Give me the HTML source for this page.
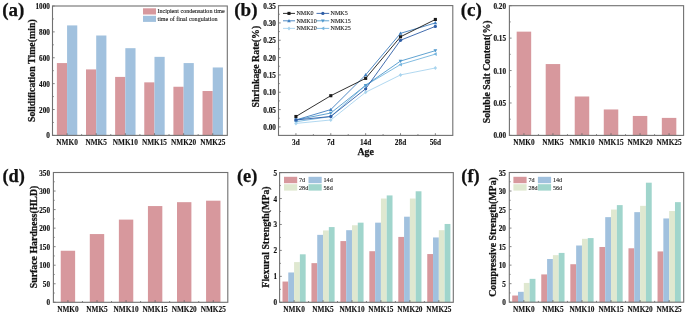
<!DOCTYPE html>
<html><head><meta charset="utf-8"><style>
html,body{margin:0;padding:0;background:#fff;width:685px;height:313px;overflow:hidden}
svg{display:block;will-change:transform;filter:blur(0.4px)}
text{font-family:"Liberation Serif", serif;fill:#111}
text[font-weight=bold]{stroke:#111;stroke-width:0.1px}
text.big{stroke-width:0.25px}
text.tick{stroke-width:0.15px}
text[font-weight=normal]{stroke:#222;stroke-width:0.1px}
</style></head><body>
<svg width="685" height="313" viewBox="0 0 685 313">
<rect width="685" height="313" fill="#fff"/>
<rect x="56.87" y="63.07" width="10.20" height="72.33" fill="#d7989d"/>
<rect x="67.07" y="25.41" width="10.20" height="109.99" fill="#a1c1de"/>
<rect x="86.00" y="69.41" width="10.20" height="65.99" fill="#d7989d"/>
<rect x="96.20" y="35.50" width="10.20" height="99.90" fill="#a1c1de"/>
<rect x="115.13" y="76.91" width="10.20" height="58.49" fill="#d7989d"/>
<rect x="125.33" y="48.18" width="10.20" height="87.22" fill="#a1c1de"/>
<rect x="144.27" y="82.35" width="10.20" height="53.05" fill="#d7989d"/>
<rect x="154.47" y="56.85" width="10.20" height="78.55" fill="#a1c1de"/>
<rect x="173.40" y="86.75" width="10.20" height="48.65" fill="#d7989d"/>
<rect x="183.60" y="63.07" width="10.20" height="72.33" fill="#a1c1de"/>
<rect x="202.53" y="91.02" width="10.20" height="44.38" fill="#d7989d"/>
<rect x="212.73" y="67.47" width="10.20" height="67.94" fill="#a1c1de"/>
<line x1="52.50" y1="135.40" x2="54.70" y2="135.40" stroke="#666" stroke-width="0.8"/>
<text x="0" y="0" font-size="7.2" font-weight="bold" text-anchor="end" dominant-baseline="central" class="tick" transform="translate(49.90,136.40) scale(1.000,1)">0</text>
<line x1="52.50" y1="109.52" x2="54.70" y2="109.52" stroke="#666" stroke-width="0.8"/>
<text x="0" y="0" font-size="7.2" font-weight="bold" text-anchor="end" dominant-baseline="central" class="tick" transform="translate(49.90,110.52) scale(1.000,1)">200</text>
<line x1="52.50" y1="83.64" x2="54.70" y2="83.64" stroke="#666" stroke-width="0.8"/>
<text x="0" y="0" font-size="7.2" font-weight="bold" text-anchor="end" dominant-baseline="central" class="tick" transform="translate(49.90,84.64) scale(1.000,1)">400</text>
<line x1="52.50" y1="57.76" x2="54.70" y2="57.76" stroke="#666" stroke-width="0.8"/>
<text x="0" y="0" font-size="7.2" font-weight="bold" text-anchor="end" dominant-baseline="central" class="tick" transform="translate(49.90,58.76) scale(1.000,1)">600</text>
<line x1="52.50" y1="31.88" x2="54.70" y2="31.88" stroke="#666" stroke-width="0.8"/>
<text x="0" y="0" font-size="7.2" font-weight="bold" text-anchor="end" dominant-baseline="central" class="tick" transform="translate(49.90,32.88) scale(1.000,1)">800</text>
<line x1="52.50" y1="6.00" x2="54.70" y2="6.00" stroke="#666" stroke-width="0.8"/>
<text x="0" y="0" font-size="7.2" font-weight="bold" text-anchor="end" dominant-baseline="central" class="tick" transform="translate(49.90,7.00) scale(1.000,1)">1000</text>
<line x1="52.50" y1="122.46" x2="53.80" y2="122.46" stroke="#666" stroke-width="0.8"/>
<line x1="52.50" y1="96.58" x2="53.80" y2="96.58" stroke="#666" stroke-width="0.8"/>
<line x1="52.50" y1="70.70" x2="53.80" y2="70.70" stroke="#666" stroke-width="0.8"/>
<line x1="52.50" y1="44.82" x2="53.80" y2="44.82" stroke="#666" stroke-width="0.8"/>
<line x1="52.50" y1="18.94" x2="53.80" y2="18.94" stroke="#666" stroke-width="0.8"/>
<line x1="67.07" y1="135.40" x2="67.07" y2="133.20" stroke="#666" stroke-width="0.8"/>
<text x="67.07" y="142.50" font-size="7.3" font-weight="bold" text-anchor="middle" dominant-baseline="central" >NMK0</text>
<line x1="96.20" y1="135.40" x2="96.20" y2="133.20" stroke="#666" stroke-width="0.8"/>
<line x1="81.63" y1="135.40" x2="81.63" y2="134.10" stroke="#666" stroke-width="0.8"/>
<text x="96.20" y="142.50" font-size="7.3" font-weight="bold" text-anchor="middle" dominant-baseline="central" >NMK5</text>
<line x1="125.33" y1="135.40" x2="125.33" y2="133.20" stroke="#666" stroke-width="0.8"/>
<line x1="110.77" y1="135.40" x2="110.77" y2="134.10" stroke="#666" stroke-width="0.8"/>
<text x="125.33" y="142.50" font-size="7.3" font-weight="bold" text-anchor="middle" dominant-baseline="central" >NMK10</text>
<line x1="154.47" y1="135.40" x2="154.47" y2="133.20" stroke="#666" stroke-width="0.8"/>
<line x1="139.90" y1="135.40" x2="139.90" y2="134.10" stroke="#666" stroke-width="0.8"/>
<text x="154.47" y="142.50" font-size="7.3" font-weight="bold" text-anchor="middle" dominant-baseline="central" >NMK15</text>
<line x1="183.60" y1="135.40" x2="183.60" y2="133.20" stroke="#666" stroke-width="0.8"/>
<line x1="169.03" y1="135.40" x2="169.03" y2="134.10" stroke="#666" stroke-width="0.8"/>
<text x="183.60" y="142.50" font-size="7.3" font-weight="bold" text-anchor="middle" dominant-baseline="central" >NMK20</text>
<line x1="212.73" y1="135.40" x2="212.73" y2="133.20" stroke="#666" stroke-width="0.8"/>
<line x1="198.17" y1="135.40" x2="198.17" y2="134.10" stroke="#666" stroke-width="0.8"/>
<text x="212.73" y="142.50" font-size="7.3" font-weight="bold" text-anchor="middle" dominant-baseline="central" >NMK25</text>
<rect x="52.5" y="6.0" width="174.80" height="129.40" fill="none" stroke="#707070" stroke-width="1.1"/>
<rect x="143.00" y="8.30" width="13.00" height="6.20" fill="#d7989d"/>
<rect x="143.00" y="15.80" width="13.00" height="6.10" fill="#a1c1de"/>
<text x="157.50" y="11.30" font-size="6.05" font-weight="normal" text-anchor="start" dominant-baseline="central" >Incipient condensation time</text>
<text x="157.50" y="18.70" font-size="6.05" font-weight="normal" text-anchor="start" dominant-baseline="central" >time of final congulation</text>
<text x="2.30" y="9.00" font-size="19" font-weight="bold" text-anchor="start" dominant-baseline="central" class="big">(a)</text>
<text x="0" y="0" font-size="9.85" font-weight="bold" text-anchor="middle" dominant-baseline="central" class="big" transform="translate(31.30,70.70) rotate(-90)">Solidification Time(min)</text>
<line x1="278.50" y1="126.90" x2="280.70" y2="126.90" stroke="#666" stroke-width="0.8"/>
<text x="0" y="0" font-size="7.2" font-weight="bold" text-anchor="end" dominant-baseline="central" class="tick" transform="translate(275.90,127.90) scale(1.000,1)">0.00</text>
<line x1="278.50" y1="109.57" x2="280.70" y2="109.57" stroke="#666" stroke-width="0.8"/>
<text x="0" y="0" font-size="7.2" font-weight="bold" text-anchor="end" dominant-baseline="central" class="tick" transform="translate(275.90,110.57) scale(1.000,1)">0.05</text>
<line x1="278.50" y1="92.24" x2="280.70" y2="92.24" stroke="#666" stroke-width="0.8"/>
<text x="0" y="0" font-size="7.2" font-weight="bold" text-anchor="end" dominant-baseline="central" class="tick" transform="translate(275.90,93.24) scale(1.000,1)">0.10</text>
<line x1="278.50" y1="74.91" x2="280.70" y2="74.91" stroke="#666" stroke-width="0.8"/>
<text x="0" y="0" font-size="7.2" font-weight="bold" text-anchor="end" dominant-baseline="central" class="tick" transform="translate(275.90,75.91) scale(1.000,1)">0.15</text>
<line x1="278.50" y1="57.59" x2="280.70" y2="57.59" stroke="#666" stroke-width="0.8"/>
<text x="0" y="0" font-size="7.2" font-weight="bold" text-anchor="end" dominant-baseline="central" class="tick" transform="translate(275.90,58.59) scale(1.000,1)">0.20</text>
<line x1="278.50" y1="40.26" x2="280.70" y2="40.26" stroke="#666" stroke-width="0.8"/>
<text x="0" y="0" font-size="7.2" font-weight="bold" text-anchor="end" dominant-baseline="central" class="tick" transform="translate(275.90,41.26) scale(1.000,1)">0.25</text>
<line x1="278.50" y1="22.93" x2="280.70" y2="22.93" stroke="#666" stroke-width="0.8"/>
<text x="0" y="0" font-size="7.2" font-weight="bold" text-anchor="end" dominant-baseline="central" class="tick" transform="translate(275.90,23.93) scale(1.000,1)">0.30</text>
<line x1="278.50" y1="5.60" x2="280.70" y2="5.60" stroke="#666" stroke-width="0.8"/>
<text x="0" y="0" font-size="7.2" font-weight="bold" text-anchor="end" dominant-baseline="central" class="tick" transform="translate(275.90,6.60) scale(1.000,1)">0.35</text>
<line x1="278.50" y1="118.24" x2="279.80" y2="118.24" stroke="#666" stroke-width="0.8"/>
<line x1="278.50" y1="100.91" x2="279.80" y2="100.91" stroke="#666" stroke-width="0.8"/>
<line x1="278.50" y1="83.58" x2="279.80" y2="83.58" stroke="#666" stroke-width="0.8"/>
<line x1="278.50" y1="66.25" x2="279.80" y2="66.25" stroke="#666" stroke-width="0.8"/>
<line x1="278.50" y1="48.92" x2="279.80" y2="48.92" stroke="#666" stroke-width="0.8"/>
<line x1="278.50" y1="31.59" x2="279.80" y2="31.59" stroke="#666" stroke-width="0.8"/>
<line x1="278.50" y1="14.26" x2="279.80" y2="14.26" stroke="#666" stroke-width="0.8"/>
<line x1="295.93" y1="135.40" x2="295.93" y2="133.20" stroke="#666" stroke-width="0.8"/>
<line x1="313.36" y1="135.40" x2="313.36" y2="134.10" stroke="#666" stroke-width="0.8"/>
<text x="295.93" y="142.30" font-size="7.3" font-weight="bold" text-anchor="middle" dominant-baseline="central" >3d</text>
<line x1="330.79" y1="135.40" x2="330.79" y2="133.20" stroke="#666" stroke-width="0.8"/>
<line x1="348.22" y1="135.40" x2="348.22" y2="134.10" stroke="#666" stroke-width="0.8"/>
<text x="330.79" y="142.30" font-size="7.3" font-weight="bold" text-anchor="middle" dominant-baseline="central" >7d</text>
<line x1="365.65" y1="135.40" x2="365.65" y2="133.20" stroke="#666" stroke-width="0.8"/>
<line x1="383.08" y1="135.40" x2="383.08" y2="134.10" stroke="#666" stroke-width="0.8"/>
<text x="365.65" y="142.30" font-size="7.3" font-weight="bold" text-anchor="middle" dominant-baseline="central" >14d</text>
<line x1="400.51" y1="135.40" x2="400.51" y2="133.20" stroke="#666" stroke-width="0.8"/>
<line x1="417.94" y1="135.40" x2="417.94" y2="134.10" stroke="#666" stroke-width="0.8"/>
<text x="400.51" y="142.30" font-size="7.3" font-weight="bold" text-anchor="middle" dominant-baseline="central" >28d</text>
<line x1="435.37" y1="135.40" x2="435.37" y2="133.20" stroke="#666" stroke-width="0.8"/>
<text x="435.37" y="142.30" font-size="7.3" font-weight="bold" text-anchor="middle" dominant-baseline="central" >56d</text>
<text x="365.65" y="151.20" font-size="9.85" font-weight="bold" text-anchor="middle" dominant-baseline="central" class="big">Age</text>
<text x="0" y="0" font-size="9.85" font-weight="bold" text-anchor="middle" dominant-baseline="central" class="big" transform="translate(255.20,66.70) rotate(-90)">Shrinkage Rate(%)</text>
<polyline points="295.93,121.70 330.79,116.50 365.65,85.31 400.51,64.52 435.37,54.12" fill="none" stroke="#74b4de" stroke-width="0.9"/>
<polygon points="294.07,121.70 297.32,119.84 297.32,123.56" fill="#74b4de"/>
<polygon points="328.93,116.50 332.19,114.64 332.19,118.36" fill="#74b4de"/>
<polygon points="363.79,85.31 367.04,83.45 367.04,87.17" fill="#74b4de"/>
<polygon points="398.65,64.52 401.90,62.66 401.90,66.38" fill="#74b4de"/>
<polygon points="433.51,54.12 436.76,52.26 436.76,55.98" fill="#74b4de"/>
<polyline points="295.93,123.43 330.79,119.97 365.65,92.24 400.51,74.91 435.37,67.98" fill="none" stroke="#a8d4ee" stroke-width="0.9"/>
<polygon points="295.93,121.42 297.63,123.43 295.93,125.45 294.23,123.43" fill="#a8d4ee"/>
<polygon points="330.79,117.95 332.50,119.97 330.79,121.98 329.09,119.97" fill="#a8d4ee"/>
<polygon points="365.65,90.23 367.35,92.24 365.65,94.26 363.94,92.24" fill="#a8d4ee"/>
<polygon points="400.51,72.90 402.21,74.91 400.51,76.93 398.81,74.91" fill="#a8d4ee"/>
<polygon points="435.37,65.97 437.07,67.98 435.37,70.00 433.67,67.98" fill="#a8d4ee"/>
<polyline points="295.93,119.97 330.79,113.04 365.65,85.31 400.51,61.05 435.37,50.65" fill="none" stroke="#4f98cc" stroke-width="0.9"/>
<polygon points="295.93,121.83 294.07,118.57 297.79,118.57" fill="#4f98cc"/>
<polygon points="330.79,114.90 328.93,111.64 332.65,111.64" fill="#4f98cc"/>
<polygon points="365.65,87.17 363.79,83.92 367.51,83.92" fill="#4f98cc"/>
<polygon points="400.51,62.91 398.65,59.66 402.37,59.66" fill="#4f98cc"/>
<polygon points="435.37,52.51 433.51,49.26 437.23,49.26" fill="#4f98cc"/>
<polyline points="295.93,119.97 330.79,109.57 365.65,74.91 400.51,33.33 435.37,22.93" fill="none" stroke="#3f7fc0" stroke-width="0.9"/>
<polygon points="295.93,118.11 294.07,121.36 297.79,121.36" fill="#3f7fc0"/>
<polygon points="330.79,107.71 328.93,110.97 332.65,110.97" fill="#3f7fc0"/>
<polygon points="365.65,73.05 363.79,76.31 367.51,76.31" fill="#3f7fc0"/>
<polygon points="400.51,31.47 398.65,34.72 402.37,34.72" fill="#3f7fc0"/>
<polygon points="435.37,21.07 433.51,24.32 437.23,24.32" fill="#3f7fc0"/>
<polyline points="295.93,119.97 330.79,116.50 365.65,88.78 400.51,40.26 435.37,26.39" fill="none" stroke="#2f5ea6" stroke-width="0.9"/>
<circle cx="295.93" cy="119.97" r="1.63" fill="#2f5ea6"/>
<circle cx="330.79" cy="116.50" r="1.63" fill="#2f5ea6"/>
<circle cx="365.65" cy="88.78" r="1.63" fill="#2f5ea6"/>
<circle cx="400.51" cy="40.26" r="1.63" fill="#2f5ea6"/>
<circle cx="435.37" cy="26.39" r="1.63" fill="#2f5ea6"/>
<polyline points="295.93,116.50 330.79,95.71 365.65,78.38 400.51,36.79 435.37,19.46" fill="none" stroke="#1a1a1a" stroke-width="0.9"/>
<rect x="294.38" y="114.95" width="3.10" height="3.10" fill="#1a1a1a"/>
<rect x="329.24" y="94.16" width="3.10" height="3.10" fill="#1a1a1a"/>
<rect x="364.10" y="76.83" width="3.10" height="3.10" fill="#1a1a1a"/>
<rect x="398.96" y="35.24" width="3.10" height="3.10" fill="#1a1a1a"/>
<rect x="433.82" y="17.91" width="3.10" height="3.10" fill="#1a1a1a"/>
<rect x="278.5" y="5.6" width="174.30" height="129.80" fill="none" stroke="#707070" stroke-width="1.1"/>
<line x1="283.00" y1="13.40" x2="295.00" y2="13.40" stroke="#1a1a1a" stroke-width="0.9"/>
<rect x="287.45" y="11.85" width="3.10" height="3.10" fill="#1a1a1a"/>
<text x="296.50" y="13.40" font-size="6.05" font-weight="normal" text-anchor="start" dominant-baseline="central" >NMK0</text>
<line x1="316.50" y1="13.40" x2="329.20" y2="13.40" stroke="#2f5ea6" stroke-width="0.9"/>
<circle cx="322.85" cy="13.40" r="1.63" fill="#2f5ea6"/>
<text x="330.60" y="13.40" font-size="6.05" font-weight="normal" text-anchor="start" dominant-baseline="central" >NMK5</text>
<line x1="283.00" y1="20.80" x2="295.00" y2="20.80" stroke="#3f7fc0" stroke-width="0.9"/>
<polygon points="289.00,18.94 287.14,22.20 290.86,22.20" fill="#3f7fc0"/>
<text x="296.50" y="20.80" font-size="6.05" font-weight="normal" text-anchor="start" dominant-baseline="central" >NMK10</text>
<line x1="316.50" y1="20.80" x2="329.20" y2="20.80" stroke="#4f98cc" stroke-width="0.9"/>
<polygon points="322.85,22.66 320.99,19.41 324.71,19.41" fill="#4f98cc"/>
<text x="330.60" y="20.80" font-size="6.05" font-weight="normal" text-anchor="start" dominant-baseline="central" >NMK15</text>
<line x1="283.00" y1="28.40" x2="295.00" y2="28.40" stroke="#a8d4ee" stroke-width="0.9"/>
<polygon points="289.00,26.38 290.70,28.40 289.00,30.41 287.30,28.40" fill="#a8d4ee"/>
<text x="296.50" y="28.40" font-size="6.05" font-weight="normal" text-anchor="start" dominant-baseline="central" >NMK20</text>
<line x1="316.50" y1="28.40" x2="329.20" y2="28.40" stroke="#74b4de" stroke-width="0.9"/>
<polygon points="320.99,28.40 324.25,26.54 324.25,30.26" fill="#74b4de"/>
<text x="330.60" y="28.40" font-size="6.05" font-weight="normal" text-anchor="start" dominant-baseline="central" >NMK25</text>
<text x="234.30" y="9.00" font-size="19" font-weight="bold" text-anchor="start" dominant-baseline="central" class="big">(b)</text>
<rect x="516.67" y="31.64" width="14.50" height="103.76" fill="#d7989d"/>
<rect x="545.70" y="64.06" width="14.50" height="71.34" fill="#d7989d"/>
<rect x="574.73" y="96.49" width="14.50" height="38.91" fill="#d7989d"/>
<rect x="603.77" y="109.46" width="14.50" height="25.94" fill="#d7989d"/>
<rect x="632.80" y="115.95" width="14.50" height="19.45" fill="#d7989d"/>
<rect x="661.83" y="117.89" width="14.50" height="17.51" fill="#d7989d"/>
<line x1="509.40" y1="135.40" x2="511.60" y2="135.40" stroke="#666" stroke-width="0.8"/>
<text x="0" y="0" font-size="7.2" font-weight="bold" text-anchor="end" dominant-baseline="central" class="tick" transform="translate(506.00,136.40) scale(1.000,1)">0.00</text>
<line x1="509.40" y1="102.97" x2="511.60" y2="102.97" stroke="#666" stroke-width="0.8"/>
<text x="0" y="0" font-size="7.2" font-weight="bold" text-anchor="end" dominant-baseline="central" class="tick" transform="translate(506.00,103.97) scale(1.000,1)">0.05</text>
<line x1="509.40" y1="70.55" x2="511.60" y2="70.55" stroke="#666" stroke-width="0.8"/>
<text x="0" y="0" font-size="7.2" font-weight="bold" text-anchor="end" dominant-baseline="central" class="tick" transform="translate(506.00,71.55) scale(1.000,1)">0.10</text>
<line x1="509.40" y1="38.12" x2="511.60" y2="38.12" stroke="#666" stroke-width="0.8"/>
<text x="0" y="0" font-size="7.2" font-weight="bold" text-anchor="end" dominant-baseline="central" class="tick" transform="translate(506.00,39.12) scale(1.000,1)">0.15</text>
<line x1="509.40" y1="5.70" x2="511.60" y2="5.70" stroke="#666" stroke-width="0.8"/>
<text x="0" y="0" font-size="7.2" font-weight="bold" text-anchor="end" dominant-baseline="central" class="tick" transform="translate(506.00,6.70) scale(1.000,1)">0.20</text>
<line x1="509.40" y1="119.19" x2="510.70" y2="119.19" stroke="#666" stroke-width="0.8"/>
<line x1="509.40" y1="86.76" x2="510.70" y2="86.76" stroke="#666" stroke-width="0.8"/>
<line x1="509.40" y1="54.34" x2="510.70" y2="54.34" stroke="#666" stroke-width="0.8"/>
<line x1="509.40" y1="21.91" x2="510.70" y2="21.91" stroke="#666" stroke-width="0.8"/>
<line x1="523.92" y1="135.40" x2="523.92" y2="133.20" stroke="#666" stroke-width="0.8"/>
<text x="523.92" y="142.50" font-size="7.3" font-weight="bold" text-anchor="middle" dominant-baseline="central" >NMK0</text>
<line x1="552.95" y1="135.40" x2="552.95" y2="133.20" stroke="#666" stroke-width="0.8"/>
<line x1="538.43" y1="135.40" x2="538.43" y2="134.10" stroke="#666" stroke-width="0.8"/>
<text x="552.95" y="142.50" font-size="7.3" font-weight="bold" text-anchor="middle" dominant-baseline="central" >NMK5</text>
<line x1="581.98" y1="135.40" x2="581.98" y2="133.20" stroke="#666" stroke-width="0.8"/>
<line x1="567.47" y1="135.40" x2="567.47" y2="134.10" stroke="#666" stroke-width="0.8"/>
<text x="581.98" y="142.50" font-size="7.3" font-weight="bold" text-anchor="middle" dominant-baseline="central" >NMK10</text>
<line x1="611.02" y1="135.40" x2="611.02" y2="133.20" stroke="#666" stroke-width="0.8"/>
<line x1="596.50" y1="135.40" x2="596.50" y2="134.10" stroke="#666" stroke-width="0.8"/>
<text x="611.02" y="142.50" font-size="7.3" font-weight="bold" text-anchor="middle" dominant-baseline="central" >NMK15</text>
<line x1="640.05" y1="135.40" x2="640.05" y2="133.20" stroke="#666" stroke-width="0.8"/>
<line x1="625.53" y1="135.40" x2="625.53" y2="134.10" stroke="#666" stroke-width="0.8"/>
<text x="640.05" y="142.50" font-size="7.3" font-weight="bold" text-anchor="middle" dominant-baseline="central" >NMK20</text>
<line x1="669.08" y1="135.40" x2="669.08" y2="133.20" stroke="#666" stroke-width="0.8"/>
<line x1="654.57" y1="135.40" x2="654.57" y2="134.10" stroke="#666" stroke-width="0.8"/>
<text x="669.08" y="142.50" font-size="7.3" font-weight="bold" text-anchor="middle" dominant-baseline="central" >NMK25</text>
<rect x="509.4" y="5.7" width="174.20" height="129.70" fill="none" stroke="#707070" stroke-width="1.1"/>
<text x="460.80" y="9.00" font-size="19" font-weight="bold" text-anchor="start" dominant-baseline="central" class="big">(c)</text>
<text x="0" y="0" font-size="9.85" font-weight="bold" text-anchor="middle" dominant-baseline="central" class="big" transform="translate(486.15,71.90) rotate(-90)">Soluble Salt Content(%)</text>
<rect x="60.73" y="250.75" width="14.40" height="51.55" fill="#d7989d"/>
<rect x="89.80" y="234.06" width="14.40" height="68.24" fill="#d7989d"/>
<rect x="118.87" y="219.60" width="14.40" height="82.70" fill="#d7989d"/>
<rect x="147.93" y="206.06" width="14.40" height="96.24" fill="#d7989d"/>
<rect x="177.00" y="202.17" width="14.40" height="100.13" fill="#d7989d"/>
<rect x="206.07" y="200.69" width="14.40" height="101.61" fill="#d7989d"/>
<line x1="53.40" y1="302.30" x2="55.60" y2="302.30" stroke="#666" stroke-width="0.8"/>
<text x="0" y="0" font-size="7.2" font-weight="bold" text-anchor="end" dominant-baseline="central" class="tick" transform="translate(50.00,303.30) scale(1.000,1)">0</text>
<line x1="53.40" y1="283.76" x2="55.60" y2="283.76" stroke="#666" stroke-width="0.8"/>
<text x="0" y="0" font-size="7.2" font-weight="bold" text-anchor="end" dominant-baseline="central" class="tick" transform="translate(50.00,284.76) scale(1.000,1)">50</text>
<line x1="53.40" y1="265.21" x2="55.60" y2="265.21" stroke="#666" stroke-width="0.8"/>
<text x="0" y="0" font-size="7.2" font-weight="bold" text-anchor="end" dominant-baseline="central" class="tick" transform="translate(50.00,266.21) scale(1.000,1)">100</text>
<line x1="53.40" y1="246.67" x2="55.60" y2="246.67" stroke="#666" stroke-width="0.8"/>
<text x="0" y="0" font-size="7.2" font-weight="bold" text-anchor="end" dominant-baseline="central" class="tick" transform="translate(50.00,247.67) scale(1.000,1)">150</text>
<line x1="53.40" y1="228.13" x2="55.60" y2="228.13" stroke="#666" stroke-width="0.8"/>
<text x="0" y="0" font-size="7.2" font-weight="bold" text-anchor="end" dominant-baseline="central" class="tick" transform="translate(50.00,229.13) scale(1.000,1)">200</text>
<line x1="53.40" y1="209.59" x2="55.60" y2="209.59" stroke="#666" stroke-width="0.8"/>
<text x="0" y="0" font-size="7.2" font-weight="bold" text-anchor="end" dominant-baseline="central" class="tick" transform="translate(50.00,210.59) scale(1.000,1)">250</text>
<line x1="53.40" y1="191.04" x2="55.60" y2="191.04" stroke="#666" stroke-width="0.8"/>
<text x="0" y="0" font-size="7.2" font-weight="bold" text-anchor="end" dominant-baseline="central" class="tick" transform="translate(50.00,192.04) scale(1.000,1)">300</text>
<line x1="53.40" y1="172.50" x2="55.60" y2="172.50" stroke="#666" stroke-width="0.8"/>
<text x="0" y="0" font-size="7.2" font-weight="bold" text-anchor="end" dominant-baseline="central" class="tick" transform="translate(50.00,173.50) scale(1.000,1)">350</text>
<line x1="53.40" y1="293.03" x2="54.70" y2="293.03" stroke="#666" stroke-width="0.8"/>
<line x1="53.40" y1="274.49" x2="54.70" y2="274.49" stroke="#666" stroke-width="0.8"/>
<line x1="53.40" y1="255.94" x2="54.70" y2="255.94" stroke="#666" stroke-width="0.8"/>
<line x1="53.40" y1="237.40" x2="54.70" y2="237.40" stroke="#666" stroke-width="0.8"/>
<line x1="53.40" y1="218.86" x2="54.70" y2="218.86" stroke="#666" stroke-width="0.8"/>
<line x1="53.40" y1="200.31" x2="54.70" y2="200.31" stroke="#666" stroke-width="0.8"/>
<line x1="53.40" y1="181.77" x2="54.70" y2="181.77" stroke="#666" stroke-width="0.8"/>
<line x1="67.93" y1="302.30" x2="67.93" y2="300.10" stroke="#666" stroke-width="0.8"/>
<text x="67.93" y="309.10" font-size="7.3" font-weight="bold" text-anchor="middle" dominant-baseline="central" >NMK0</text>
<line x1="97.00" y1="302.30" x2="97.00" y2="300.10" stroke="#666" stroke-width="0.8"/>
<line x1="82.47" y1="302.30" x2="82.47" y2="301.00" stroke="#666" stroke-width="0.8"/>
<text x="97.00" y="309.10" font-size="7.3" font-weight="bold" text-anchor="middle" dominant-baseline="central" >NMK5</text>
<line x1="126.07" y1="302.30" x2="126.07" y2="300.10" stroke="#666" stroke-width="0.8"/>
<line x1="111.53" y1="302.30" x2="111.53" y2="301.00" stroke="#666" stroke-width="0.8"/>
<text x="126.07" y="309.10" font-size="7.3" font-weight="bold" text-anchor="middle" dominant-baseline="central" >NMK10</text>
<line x1="155.13" y1="302.30" x2="155.13" y2="300.10" stroke="#666" stroke-width="0.8"/>
<line x1="140.60" y1="302.30" x2="140.60" y2="301.00" stroke="#666" stroke-width="0.8"/>
<text x="155.13" y="309.10" font-size="7.3" font-weight="bold" text-anchor="middle" dominant-baseline="central" >NMK15</text>
<line x1="184.20" y1="302.30" x2="184.20" y2="300.10" stroke="#666" stroke-width="0.8"/>
<line x1="169.67" y1="302.30" x2="169.67" y2="301.00" stroke="#666" stroke-width="0.8"/>
<text x="184.20" y="309.10" font-size="7.3" font-weight="bold" text-anchor="middle" dominant-baseline="central" >NMK20</text>
<line x1="213.27" y1="302.30" x2="213.27" y2="300.10" stroke="#666" stroke-width="0.8"/>
<line x1="198.73" y1="302.30" x2="198.73" y2="301.00" stroke="#666" stroke-width="0.8"/>
<text x="213.27" y="309.10" font-size="7.3" font-weight="bold" text-anchor="middle" dominant-baseline="central" >NMK25</text>
<rect x="53.4" y="172.5" width="174.40" height="129.80" fill="none" stroke="#707070" stroke-width="1.1"/>
<text x="2.40" y="176.00" font-size="18.4" font-weight="bold" text-anchor="start" dominant-baseline="central" class="big">(d)</text>
<text x="0" y="0" font-size="9.85" font-weight="bold" text-anchor="middle" dominant-baseline="central" class="big" transform="translate(33.30,237.00) rotate(-90)">Surface Hardness(HLD)</text>
<rect x="282.50" y="281.55" width="5.79" height="20.75" fill="#d7989d"/>
<rect x="288.29" y="272.47" width="5.79" height="29.83" fill="#a1c1de"/>
<rect x="294.08" y="262.09" width="5.79" height="40.21" fill="#dfe8d0"/>
<rect x="299.87" y="254.31" width="5.79" height="47.99" fill="#a0d5cc"/>
<rect x="311.45" y="263.13" width="5.79" height="39.17" fill="#d7989d"/>
<rect x="317.24" y="234.86" width="5.79" height="67.44" fill="#a1c1de"/>
<rect x="323.03" y="230.45" width="5.79" height="71.85" fill="#dfe8d0"/>
<rect x="328.82" y="227.07" width="5.79" height="75.23" fill="#a0d5cc"/>
<rect x="340.40" y="241.08" width="5.79" height="61.22" fill="#d7989d"/>
<rect x="346.19" y="230.19" width="5.79" height="72.11" fill="#a1c1de"/>
<rect x="351.98" y="225.26" width="5.79" height="77.04" fill="#dfe8d0"/>
<rect x="357.77" y="222.66" width="5.79" height="79.64" fill="#a0d5cc"/>
<rect x="369.35" y="251.20" width="5.79" height="51.10" fill="#d7989d"/>
<rect x="375.14" y="222.66" width="5.79" height="79.64" fill="#a1c1de"/>
<rect x="380.93" y="198.54" width="5.79" height="103.76" fill="#dfe8d0"/>
<rect x="386.72" y="195.43" width="5.79" height="106.87" fill="#a0d5cc"/>
<rect x="398.30" y="236.93" width="5.79" height="65.37" fill="#d7989d"/>
<rect x="404.09" y="216.70" width="5.79" height="85.60" fill="#a1c1de"/>
<rect x="409.88" y="198.54" width="5.79" height="103.76" fill="#dfe8d0"/>
<rect x="415.67" y="191.28" width="5.79" height="111.02" fill="#a0d5cc"/>
<rect x="427.25" y="254.05" width="5.79" height="48.25" fill="#d7989d"/>
<rect x="433.04" y="237.45" width="5.79" height="64.85" fill="#a1c1de"/>
<rect x="438.83" y="230.19" width="5.79" height="72.11" fill="#dfe8d0"/>
<rect x="444.62" y="223.96" width="5.79" height="78.34" fill="#a0d5cc"/>
<line x1="279.60" y1="302.30" x2="281.80" y2="302.30" stroke="#666" stroke-width="0.8"/>
<text x="0" y="0" font-size="7.2" font-weight="bold" text-anchor="end" dominant-baseline="central" class="tick" transform="translate(277.00,303.30) scale(1.000,1)">0</text>
<line x1="279.60" y1="276.36" x2="281.80" y2="276.36" stroke="#666" stroke-width="0.8"/>
<text x="0" y="0" font-size="7.2" font-weight="bold" text-anchor="end" dominant-baseline="central" class="tick" transform="translate(277.00,277.36) scale(1.000,1)">1</text>
<line x1="279.60" y1="250.42" x2="281.80" y2="250.42" stroke="#666" stroke-width="0.8"/>
<text x="0" y="0" font-size="7.2" font-weight="bold" text-anchor="end" dominant-baseline="central" class="tick" transform="translate(277.00,251.42) scale(1.000,1)">2</text>
<line x1="279.60" y1="224.48" x2="281.80" y2="224.48" stroke="#666" stroke-width="0.8"/>
<text x="0" y="0" font-size="7.2" font-weight="bold" text-anchor="end" dominant-baseline="central" class="tick" transform="translate(277.00,225.48) scale(1.000,1)">3</text>
<line x1="279.60" y1="198.54" x2="281.80" y2="198.54" stroke="#666" stroke-width="0.8"/>
<text x="0" y="0" font-size="7.2" font-weight="bold" text-anchor="end" dominant-baseline="central" class="tick" transform="translate(277.00,199.54) scale(1.000,1)">4</text>
<line x1="279.60" y1="172.60" x2="281.80" y2="172.60" stroke="#666" stroke-width="0.8"/>
<text x="0" y="0" font-size="7.2" font-weight="bold" text-anchor="end" dominant-baseline="central" class="tick" transform="translate(277.00,173.60) scale(1.000,1)">5</text>
<line x1="279.60" y1="289.33" x2="280.90" y2="289.33" stroke="#666" stroke-width="0.8"/>
<line x1="279.60" y1="263.39" x2="280.90" y2="263.39" stroke="#666" stroke-width="0.8"/>
<line x1="279.60" y1="237.45" x2="280.90" y2="237.45" stroke="#666" stroke-width="0.8"/>
<line x1="279.60" y1="211.51" x2="280.90" y2="211.51" stroke="#666" stroke-width="0.8"/>
<line x1="279.60" y1="185.57" x2="280.90" y2="185.57" stroke="#666" stroke-width="0.8"/>
<line x1="294.08" y1="302.30" x2="294.08" y2="300.10" stroke="#666" stroke-width="0.8"/>
<text x="294.08" y="309.10" font-size="7.3" font-weight="bold" text-anchor="middle" dominant-baseline="central" >NMK0</text>
<line x1="323.03" y1="302.30" x2="323.03" y2="300.10" stroke="#666" stroke-width="0.8"/>
<line x1="308.55" y1="302.30" x2="308.55" y2="301.00" stroke="#666" stroke-width="0.8"/>
<text x="323.03" y="309.10" font-size="7.3" font-weight="bold" text-anchor="middle" dominant-baseline="central" >NMK5</text>
<line x1="351.98" y1="302.30" x2="351.98" y2="300.10" stroke="#666" stroke-width="0.8"/>
<line x1="337.50" y1="302.30" x2="337.50" y2="301.00" stroke="#666" stroke-width="0.8"/>
<text x="351.98" y="309.10" font-size="7.3" font-weight="bold" text-anchor="middle" dominant-baseline="central" >NMK10</text>
<line x1="380.93" y1="302.30" x2="380.93" y2="300.10" stroke="#666" stroke-width="0.8"/>
<line x1="366.45" y1="302.30" x2="366.45" y2="301.00" stroke="#666" stroke-width="0.8"/>
<text x="380.93" y="309.10" font-size="7.3" font-weight="bold" text-anchor="middle" dominant-baseline="central" >NMK15</text>
<line x1="409.88" y1="302.30" x2="409.88" y2="300.10" stroke="#666" stroke-width="0.8"/>
<line x1="395.40" y1="302.30" x2="395.40" y2="301.00" stroke="#666" stroke-width="0.8"/>
<text x="409.88" y="309.10" font-size="7.3" font-weight="bold" text-anchor="middle" dominant-baseline="central" >NMK20</text>
<line x1="438.83" y1="302.30" x2="438.83" y2="300.10" stroke="#666" stroke-width="0.8"/>
<line x1="424.35" y1="302.30" x2="424.35" y2="301.00" stroke="#666" stroke-width="0.8"/>
<text x="438.83" y="309.10" font-size="7.3" font-weight="bold" text-anchor="middle" dominant-baseline="central" >NMK25</text>
<rect x="279.6" y="172.6" width="173.70" height="129.70" fill="none" stroke="#707070" stroke-width="1.1"/>
<rect x="284.00" y="176.80" width="13.20" height="6.40" fill="#d7989d"/>
<text x="299.10" y="180.10" font-size="6.05" font-weight="normal" text-anchor="start" dominant-baseline="central" >7d</text>
<rect x="308.50" y="176.80" width="13.20" height="6.40" fill="#a1c1de"/>
<text x="323.60" y="180.10" font-size="6.05" font-weight="normal" text-anchor="start" dominant-baseline="central" >14d</text>
<rect x="284.00" y="184.20" width="13.20" height="6.40" fill="#dfe8d0"/>
<text x="299.10" y="187.50" font-size="6.05" font-weight="normal" text-anchor="start" dominant-baseline="central" >28d</text>
<rect x="308.50" y="184.20" width="13.20" height="6.40" fill="#a0d5cc"/>
<text x="323.60" y="187.50" font-size="6.05" font-weight="normal" text-anchor="start" dominant-baseline="central" >56d</text>
<text x="237.00" y="176.00" font-size="18.4" font-weight="bold" text-anchor="start" dominant-baseline="central" class="big">(e)</text>
<text x="0" y="0" font-size="9.85" font-weight="bold" text-anchor="middle" dominant-baseline="central" class="big" transform="translate(265.25,237.00) rotate(-90)">Flexural Strength(MPa)</text>
<rect x="512.21" y="295.53" width="5.81" height="6.67" fill="#d7989d"/>
<rect x="518.02" y="291.82" width="5.81" height="10.38" fill="#a1c1de"/>
<rect x="523.83" y="282.93" width="5.81" height="19.27" fill="#dfe8d0"/>
<rect x="529.65" y="278.85" width="5.81" height="23.35" fill="#a0d5cc"/>
<rect x="541.27" y="274.41" width="5.81" height="27.79" fill="#d7989d"/>
<rect x="547.09" y="258.99" width="5.81" height="43.21" fill="#a1c1de"/>
<rect x="552.90" y="255.14" width="5.81" height="47.06" fill="#dfe8d0"/>
<rect x="558.71" y="252.91" width="5.81" height="49.29" fill="#a0d5cc"/>
<rect x="570.34" y="264.22" width="5.81" height="37.98" fill="#d7989d"/>
<rect x="576.15" y="245.50" width="5.81" height="56.70" fill="#a1c1de"/>
<rect x="581.97" y="238.83" width="5.81" height="63.37" fill="#dfe8d0"/>
<rect x="587.78" y="238.09" width="5.81" height="64.11" fill="#a0d5cc"/>
<rect x="599.41" y="246.98" width="5.81" height="55.22" fill="#d7989d"/>
<rect x="605.22" y="217.15" width="5.81" height="85.05" fill="#a1c1de"/>
<rect x="611.03" y="209.56" width="5.81" height="92.64" fill="#dfe8d0"/>
<rect x="616.85" y="205.11" width="5.81" height="97.09" fill="#a0d5cc"/>
<rect x="628.47" y="248.28" width="5.81" height="53.92" fill="#d7989d"/>
<rect x="634.29" y="212.15" width="5.81" height="90.05" fill="#a1c1de"/>
<rect x="640.10" y="205.85" width="5.81" height="96.35" fill="#dfe8d0"/>
<rect x="645.91" y="182.69" width="5.81" height="119.51" fill="#a0d5cc"/>
<rect x="657.54" y="251.43" width="5.81" height="50.77" fill="#d7989d"/>
<rect x="663.35" y="218.45" width="5.81" height="83.75" fill="#a1c1de"/>
<rect x="669.17" y="211.04" width="5.81" height="91.16" fill="#dfe8d0"/>
<rect x="674.98" y="202.15" width="5.81" height="100.05" fill="#a0d5cc"/>
<line x1="509.30" y1="302.20" x2="511.50" y2="302.20" stroke="#666" stroke-width="0.8"/>
<text x="0" y="0" font-size="7.2" font-weight="bold" text-anchor="end" dominant-baseline="central" class="tick" transform="translate(505.90,303.20) scale(1.000,1)">0</text>
<line x1="509.30" y1="283.67" x2="511.50" y2="283.67" stroke="#666" stroke-width="0.8"/>
<text x="0" y="0" font-size="7.2" font-weight="bold" text-anchor="end" dominant-baseline="central" class="tick" transform="translate(505.90,284.67) scale(1.000,1)">5</text>
<line x1="509.30" y1="265.14" x2="511.50" y2="265.14" stroke="#666" stroke-width="0.8"/>
<text x="0" y="0" font-size="7.2" font-weight="bold" text-anchor="end" dominant-baseline="central" class="tick" transform="translate(505.90,266.14) scale(1.000,1)">10</text>
<line x1="509.30" y1="246.61" x2="511.50" y2="246.61" stroke="#666" stroke-width="0.8"/>
<text x="0" y="0" font-size="7.2" font-weight="bold" text-anchor="end" dominant-baseline="central" class="tick" transform="translate(505.90,247.61) scale(1.000,1)">15</text>
<line x1="509.30" y1="228.09" x2="511.50" y2="228.09" stroke="#666" stroke-width="0.8"/>
<text x="0" y="0" font-size="7.2" font-weight="bold" text-anchor="end" dominant-baseline="central" class="tick" transform="translate(505.90,229.09) scale(1.000,1)">20</text>
<line x1="509.30" y1="209.56" x2="511.50" y2="209.56" stroke="#666" stroke-width="0.8"/>
<text x="0" y="0" font-size="7.2" font-weight="bold" text-anchor="end" dominant-baseline="central" class="tick" transform="translate(505.90,210.56) scale(1.000,1)">25</text>
<line x1="509.30" y1="191.03" x2="511.50" y2="191.03" stroke="#666" stroke-width="0.8"/>
<text x="0" y="0" font-size="7.2" font-weight="bold" text-anchor="end" dominant-baseline="central" class="tick" transform="translate(505.90,192.03) scale(1.000,1)">30</text>
<line x1="509.30" y1="172.50" x2="511.50" y2="172.50" stroke="#666" stroke-width="0.8"/>
<text x="0" y="0" font-size="7.2" font-weight="bold" text-anchor="end" dominant-baseline="central" class="tick" transform="translate(505.90,173.50) scale(1.000,1)">35</text>
<line x1="509.30" y1="292.94" x2="510.60" y2="292.94" stroke="#666" stroke-width="0.8"/>
<line x1="509.30" y1="274.41" x2="510.60" y2="274.41" stroke="#666" stroke-width="0.8"/>
<line x1="509.30" y1="255.88" x2="510.60" y2="255.88" stroke="#666" stroke-width="0.8"/>
<line x1="509.30" y1="237.35" x2="510.60" y2="237.35" stroke="#666" stroke-width="0.8"/>
<line x1="509.30" y1="218.82" x2="510.60" y2="218.82" stroke="#666" stroke-width="0.8"/>
<line x1="509.30" y1="200.29" x2="510.60" y2="200.29" stroke="#666" stroke-width="0.8"/>
<line x1="509.30" y1="181.76" x2="510.60" y2="181.76" stroke="#666" stroke-width="0.8"/>
<line x1="523.83" y1="302.20" x2="523.83" y2="300.00" stroke="#666" stroke-width="0.8"/>
<text x="523.83" y="309.10" font-size="7.3" font-weight="bold" text-anchor="middle" dominant-baseline="central" >NMK0</text>
<line x1="552.90" y1="302.20" x2="552.90" y2="300.00" stroke="#666" stroke-width="0.8"/>
<line x1="538.37" y1="302.20" x2="538.37" y2="300.90" stroke="#666" stroke-width="0.8"/>
<text x="552.90" y="309.10" font-size="7.3" font-weight="bold" text-anchor="middle" dominant-baseline="central" >NMK5</text>
<line x1="581.97" y1="302.20" x2="581.97" y2="300.00" stroke="#666" stroke-width="0.8"/>
<line x1="567.43" y1="302.20" x2="567.43" y2="300.90" stroke="#666" stroke-width="0.8"/>
<text x="581.97" y="309.10" font-size="7.3" font-weight="bold" text-anchor="middle" dominant-baseline="central" >NMK10</text>
<line x1="611.03" y1="302.20" x2="611.03" y2="300.00" stroke="#666" stroke-width="0.8"/>
<line x1="596.50" y1="302.20" x2="596.50" y2="300.90" stroke="#666" stroke-width="0.8"/>
<text x="611.03" y="309.10" font-size="7.3" font-weight="bold" text-anchor="middle" dominant-baseline="central" >NMK15</text>
<line x1="640.10" y1="302.20" x2="640.10" y2="300.00" stroke="#666" stroke-width="0.8"/>
<line x1="625.57" y1="302.20" x2="625.57" y2="300.90" stroke="#666" stroke-width="0.8"/>
<text x="640.10" y="309.10" font-size="7.3" font-weight="bold" text-anchor="middle" dominant-baseline="central" >NMK20</text>
<line x1="669.17" y1="302.20" x2="669.17" y2="300.00" stroke="#666" stroke-width="0.8"/>
<line x1="654.63" y1="302.20" x2="654.63" y2="300.90" stroke="#666" stroke-width="0.8"/>
<text x="669.17" y="309.10" font-size="7.3" font-weight="bold" text-anchor="middle" dominant-baseline="central" >NMK25</text>
<rect x="509.3" y="172.5" width="174.40" height="129.70" fill="none" stroke="#707070" stroke-width="1.1"/>
<rect x="513.40" y="176.80" width="13.20" height="6.40" fill="#d7989d"/>
<text x="528.50" y="180.10" font-size="6.05" font-weight="normal" text-anchor="start" dominant-baseline="central" >7d</text>
<rect x="537.90" y="176.80" width="13.20" height="6.40" fill="#a1c1de"/>
<text x="553.00" y="180.10" font-size="6.05" font-weight="normal" text-anchor="start" dominant-baseline="central" >14d</text>
<rect x="513.40" y="184.20" width="13.20" height="6.40" fill="#dfe8d0"/>
<text x="528.50" y="187.50" font-size="6.05" font-weight="normal" text-anchor="start" dominant-baseline="central" >28d</text>
<rect x="537.90" y="184.20" width="13.20" height="6.40" fill="#a0d5cc"/>
<text x="553.00" y="187.50" font-size="6.05" font-weight="normal" text-anchor="start" dominant-baseline="central" >56d</text>
<text x="461.30" y="176.00" font-size="18.4" font-weight="bold" text-anchor="start" dominant-baseline="central" class="big">(f)</text>
<text x="0" y="0" font-size="9.85" font-weight="bold" text-anchor="middle" dominant-baseline="central" class="big" transform="translate(492.60,237.00) rotate(-90)">Compressive Strength(MPa)</text>
</svg></body></html>
